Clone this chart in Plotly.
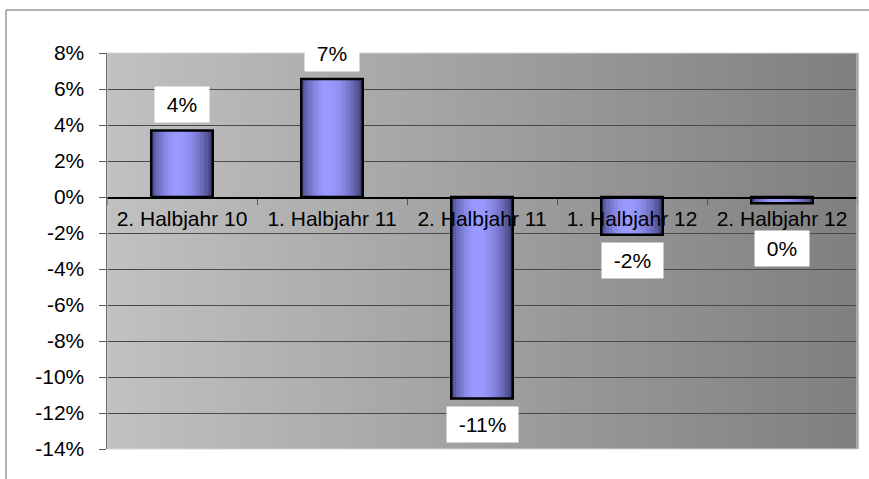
import plotly.graph_objects as go

# ---- data ----
categories = ["2. Halbjahr 10", "1. Halbjahr 11", "2. Halbjahr 11", "1. Halbjahr 12", "2. Halbjahr 12"]
values = [3.7, 6.55, -11.2, -2.1, -0.35]
y_tick_vals = [8, 6, 4, 2, 0, -2, -4, -6, -8, -10, -12, -14]
y_tick_text = ["8%", "6%", "4%", "2%", "0%", "-2%", "-4%", "-6%", "-8%", "-10%", "-12%", "-14%"]

# ---- layout geometry (pixels) ----
W, H = 869, 479
L, R, T, B = 107, 12, 53, 30
PW, PH = W - L - R, H - T - B
YMIN, YMAX = -14, 8
FONT = "Arial, Liberation Sans, sans-serif"
FS = 21

fig = go.Figure()

# gradient bars built from narrow strips
BAR_W = 0.41
N = 24
light = (153, 153, 255)
left_edge = (72, 72, 135)
right_edge = (58, 58, 110)
t0 = 0.42
for i in range(N):
    t = (i + 0.5) / N
    if t <= t0:
        s = 1 - ((t0 - t) / t0) ** 2
        c = [left_edge[k] + (light[k] - left_edge[k]) * s for k in range(3)]
    else:
        s = 1 - ((t - t0) / (1 - t0)) ** 2
        c = [right_edge[k] + (light[k] - right_edge[k]) * s for k in range(3)]
    col = "rgb(%d,%d,%d)" % tuple(int(round(v)) for v in c)
    fig.add_trace(go.Bar(
        x=categories, y=values,
        width=BAR_W / N * 1.02,
        offset=-BAR_W / 2 + i * BAR_W / N,
        marker=dict(color=col, line=dict(width=0)),
        hoverinfo="skip", showlegend=False,
    ))
# outline
fig.add_trace(go.Bar(
    x=categories, y=values, width=BAR_W, offset=-BAR_W / 2,
    marker=dict(color="rgba(0,0,0,0)", line=dict(color="black", width=2.5)),
    hoverinfo="skip", showlegend=False,
))

# background horizontal gradient
shapes = []
NS = 150
for i in range(NS):
    g = 193 - (193 - 127) * (i + 0.5) / NS
    gc = int(round(g))
    shapes.append(dict(type="rect", xref="paper", yref="paper",
                       x0=i / NS, x1=(i + 1) / NS + 0.002, y0=0, y1=1,
                       fillcolor="rgb(%d,%d,%d)" % (gc, gc, gc),
                       line=dict(width=0), layer="below"))
# plot area border (light)
shapes.append(dict(type="rect", xref="paper", yref="paper", x0=0, x1=1, y0=0, y1=1,
                   line=dict(color="#d4d4d4", width=1), fillcolor="rgba(0,0,0,0)", layer="above"))
# outer chart border: only top and left edges are visible
ox0 = (6 - L) / PW
oy1 = 1 + (T - 10) / PH
shapes.append(dict(type="line", xref="paper", yref="paper",
                   x0=ox0, x1=(W + 20 - L) / PW, y0=oy1, y1=oy1,
                   line=dict(color="#666666", width=1), layer="above"))
shapes.append(dict(type="line", xref="paper", yref="paper",
                   x0=ox0, x1=ox0, y0=oy1, y1=-(B + 20) / PH,
                   line=dict(color="#666666", width=1), layer="above"))

# value labels
annotations = []
label_shift = [7, 7, -7, -7, -27]
for cat, v, sh in zip(categories, values, label_shift):
    annotations.append(dict(
        x=cat, y=v, xref="x", yref="y",
        text="\u00a0%d%%\u00a0" % round(v),
        showarrow=False, bgcolor="white",
        font=dict(family=FONT, size=FS, color="black"),
        borderpad=6,
        yanchor="bottom" if sh > 0 else "top",
        yshift=sh,
    ))

fig.update_layout(
    width=W, height=H,
    margin=dict(l=L, r=R, t=T, b=B, pad=0),
    paper_bgcolor="white", plot_bgcolor="rgba(0,0,0,0)",
    barmode="overlay", bargap=0,
    showlegend=False,
    shapes=shapes, annotations=annotations,
    font=dict(family=FONT, size=FS, color="black"),
    xaxis=dict(
        type="category",
        anchor="free", position=(0 - YMIN) / (YMAX - YMIN),
        showline=True, linecolor="black", linewidth=1.5,
        ticks="outside", tickson="boundaries", ticklen=6, tickcolor="#555555",
        showgrid=False, zeroline=False,
        tickfont=dict(family=FONT, size=FS, color="black"),
        ticklabelstandoff=2,
        fixedrange=True,
    ),
    yaxis=dict(
        range=[YMIN, YMAX],
        tickvals=y_tick_vals, ticktext=y_tick_text,
        showline=True, linecolor="black", linewidth=1.5,
        ticks="outside", ticklen=7, tickcolor="#555555",
        showgrid=True, gridcolor="#4a4a4a", gridwidth=1,
        zeroline=False,
        tickfont=dict(family=FONT, size=FS, color="black"),
        ticklabelstandoff=10,
        fixedrange=True,
    ),
)

fig.write_html("out.html", config={"displayModeBar": False, "staticPlot": True})
